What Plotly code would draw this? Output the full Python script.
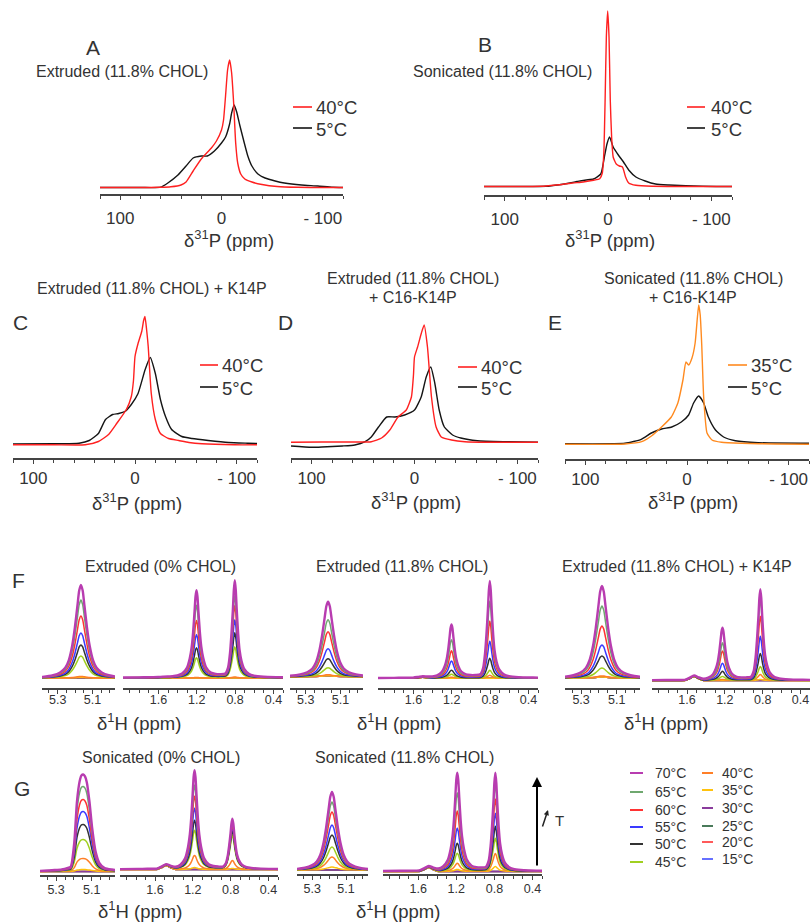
import plotly.graph_objects as go

W, H = 810, 923
def px(x): return x / W
def py(y): return 1 - y / H

FONT = "Liberation Sans, Arial, sans-serif"
TXT = "#333333"

# ---------------- 31P spectra (ppm, intensity a.u.) ----------------
A_ppm_40 = [120, 80, 60, 50, 40, 35, 28, 20, 10, 5, 0, -2, -4, -6, -8, -10, -12, -14, -16, -19, -23, -30, -40, -55, -75, -100, -120]
A_int_40 = [0.5, 0.5, 0.7, 1.2, 3, 6, 17, 29, 40, 47, 58, 68, 92, 118, 128, 115, 85, 45, 25, 14, 9, 6, 3.5, 1.5, 0.7, 0.5, 0.5]
A_ppm_5 = [120, 80, 60, 53, 43, 35, 28, 20, 14, 7, 0, -4, -8, -10, -12.5, -15, -18, -22, -26, -30, -36, -43, -53, -62, -79, -95, -110, -120]
A_int_5 = [0.5, 0.5, 0.8, 5, 13, 22, 30, 32, 32, 37, 45, 51, 64, 75, 83, 76, 63, 47, 32, 22, 14, 10, 7, 5, 3, 2, 0.7, 0.5]

B_ppm_40 = [120, 66, 47, 34, 24, 14, 8, 5.5, 4, 2.8, 1.6, 0.3, -1.0, -2.2, -3.5, -5, -6.5, -8, -11, -14, -17, -20, -27, -43, -80, -120]
B_int_40 = [0.5, 0.7, 2.3, 4, 5, 6.7, 8.3, 14, 35, 87, 150, 176, 150, 87, 50, 30, 26, 23, 21, 20, 10, 4, 1.7, 0.7, 0.5, 0.5]
B_ppm_5 = [120, 60, 47, 37, 30, 27, 21, 14, 7, 3.5, 1, -1.5, -5, -10, -15, -20, -27, -36, -46, -59, -91, -120]
B_int_5 = [0.5, 0.7, 2.3, 4, 5.5, 6, 7, 8, 13, 30, 43, 50, 40, 32, 25, 17, 10, 6, 3, 2, 0.7, 0.5]

C_ppm_40 = [120, 80, 49, 36, 26, 18, 8.5, 3.6, 1.5, 0, -3, -6.6, -8.5, -9.8, -11.5, -13, -16, -20, -25, -33, -43, -53, -66, -98, -120]
C_int_40 = [0.7, 0.7, 0.7, 4, 11, 22, 36, 49, 65, 89, 102, 114, 125, 129, 115, 99, 52, 26, 12, 7, 5, 3, 1.7, 0.7, 0.7]
C_ppm_5 = [120, 80, 55, 45, 36, 29, 22, 16, 10, 3.6, -3, -10, -15, -20, -25, -30, -36, -46, -56, -72, -92, -111, -120]
C_int_5 = [1.5, 1.7, 2.3, 5, 12, 26, 31, 32, 34, 41, 52, 76, 88, 72, 46, 29, 16, 9, 7, 5, 3, 2.3, 2]

D_ppm_40 = [120, 90, 60, 42, 32, 24, 16, 8, 3, 1, 0, -3, -6.7, -9.4, -12.6, -16.5, -21, -26, -36, -49, -71, -100, -120]
D_int_40 = [2.7, 3, 3, 3.3, 7, 15, 28, 35, 48, 70, 88, 98, 112, 120, 98, 48, 18, 8, 5, 3.3, 2.7, 2.7, 2.7]
D_ppm_5 = [120, 100, 90, 70, 58, 48, 42, 35, 27, 19, 9.6, 0, -6.5, -11.4, -15.8, -19.7, -24, -29, -37, -45, -61, -87, -120]
D_int_5 = [-1, -2.3, -2, -1, 0, 3.3, 8, 18, 28, 28, 30, 35, 48, 68, 78, 62, 35, 18, 10, 7, 4.3, 3.3, 2.7]

E_ppm_35 = [120, 61, 44.6, 35, 25, 15.4, 9, 4, 1, -1.6, -4.9, -8, -10, -11.5, -13, -14.5, -16.4, -19.7, -24.6, -34, -54, -87, -120]
E_int_35 = [0.7, 1, 3.3, 9, 18, 28, 42, 65, 83, 80, 87, 102, 125, 140, 130, 100, 48, 12, 5, 2.7, 1.7, 1, 0.7]
E_ppm_5 = [120, 61, 45, 35, 25, 15, 5.6, -1.6, -6.5, -11.5, -16.4, -21, -28, -36, -47.6, -70, -120]
E_int_5 = [1.2, 1.7, 5.7, 12, 16, 18, 23, 30, 42, 49, 42, 28, 15, 8, 4.3, 2.3, 1.7]

# ---------------- 1H spectra ----------------
temps = [70, 65, 60, 55, 50, 45, 40, 35, 30, 25, 20, 15]
temp_colors = ["#b83cb0", "#6fa86f", "#ff3333", "#3a3aff", "#333333", "#a0d020",
               "#ff7f27", "#ffc20e", "#8a3c9c", "#4a7a5a", "#ff5a5a", "#6670ff"]

# olefinic line shape (offset from peak, ppm -> normalised intensity)
OLE_OFFS = [0.3, 0.22, 0.16, 0.12, 0.09, 0.07, 0.05, 0.035, 0.02, 0.01, 0,
            -0.01, -0.02, -0.035, -0.05, -0.07, -0.09, -0.12, -0.16, -0.22, -0.3]
OLE_SHAPE_EXT = [0.004, 0.012, 0.03, 0.06, 0.11, 0.19, 0.35, 0.54, 0.78, 0.94, 1.0,
                 0.94, 0.78, 0.54, 0.35, 0.19, 0.11, 0.06, 0.03, 0.012, 0.004]
OLE_SHAPE_SON = [0.003, 0.008, 0.015, 0.022, 0.035, 0.05, 0.3, 0.72, 0.93, 0.99, 1.0,
                 0.98, 0.92, 0.72, 0.45, 0.2, 0.09, 0.035, 0.02, 0.01, 0.005]

# aliphatic region (offset from CH2 peak, ppm)
ALI_OFFS = [0.8, 0.6, 0.5, 0.4, 0.35, 0.3, 0.25, 0.2, 0.15, 0.1, 0.07, 0.05, 0.035, 0.02, 0.01, 0,
            -0.01, -0.02, -0.035, -0.05, -0.07, -0.1, -0.15, -0.2, -0.25, -0.3, -0.33, -0.35, -0.365,
            -0.38, -0.39, -0.4, -0.41, -0.42, -0.435, -0.45, -0.47, -0.5, -0.55, -0.6, -0.7, -0.85, -1.0]
CH2_SHAPE = [0.003, 0.005, 0.006, 0.008, 0.01, 0.012, 0.017, 0.025, 0.045, 0.11, 0.22, 0.35, 0.52, 0.76, 0.93, 1.0,
             0.93, 0.76, 0.52, 0.35, 0.22, 0.11, 0.045, 0.025, 0.017, 0.012, 0.011, 0.01, 0.0095,
             0.009, 0.009, 0.008, 0.008, 0.008, 0.007, 0.007, 0.0065, 0.006, 0.0055, 0.005, 0.004, 0.003, 0.002]
CH3_SHAPE = [0.0015, 0.002, 0.0025, 0.003, 0.0035, 0.004, 0.0045, 0.005, 0.0055, 0.006, 0.0065, 0.007, 0.0075, 0.008, 0.008, 0.008,
             0.0085, 0.009, 0.0095, 0.01, 0.011, 0.012, 0.015, 0.02, 0.025, 0.035, 0.1, 0.25, 0.45,
             0.7, 0.9, 1.0, 0.9, 0.7, 0.45, 0.28, 0.17, 0.085, 0.035, 0.02, 0.01, 0.006, 0.004]
BUMP_SHAPE = [0, 0, 0, 0, 0.45, 1.0, 0.45, 0, 0, 0, 0, 0, 0, 0, 0, 0,
              0, 0, 0, 0, 0, 0, 0, 0, 0, 0, 0, 0, 0,
              0, 0, 0, 0, 0, 0, 0, 0, 0, 0, 0, 0, 0, 0]

# peak heights per temperature (order of `temps`)
F1_ole = [93, 78, 62, 45, 33, 22, 1.5, 0.5, 0, 0, 0.5, 0]
F1_ch2 = [87, 72, 57, 43, 30, 20, 0.5, 0, 0, 0, 0, 0]
F1_ch3 = [97, 82, 72, 58, 45, 31, 1, 0, 0, 0, 0, 0]
F2_ole = [75, 57, 45, 28, 18, 9, 2, 1, 1, 1, 1, 1]
F2_ch2 = [53, 38, 27, 17, 8, 4, 1, 0, 0, 0, 0, 0]
F2_ch3 = [97, 77, 57, 37, 20, 8, 3, 0, 0, 0, 0, 0]
F3_ole = [92, 72, 52, 33, 22, 10, 2, 1, 1, 1, 1, 1]
F3_ch2 = [52, 37, 29, 17, 9, 4, 1, 0, 0, 0, 0, 0]
F3_ch3 = [91, 81, 64, 44, 27, 14, 6, 1, 0, 0, 0, 0]
G1_ole = [97, 85, 72, 60, 47, 32, 13, 2, 0, 0, 0, 0]
G1_ch2 = [99, 84, 73, 61, 49, 39, 14, 2, 0, 0, 0, 0]
G1_ch3 = [50, 47, 44, 42, 38, 34, 9, 1, 0, 0, 0, 0]
G2_ole = [78, 68, 58, 45, 35, 23, 13, 3, 0, 0, 0, 0]
G2_ch2 = [98, 78, 60, 43, 28, 18, 8, 2, 0, 0, 0, 0]
G2_ch3 = [98, 87, 72, 58, 45, 33, 18, 5, 0, 0, 0, 0]

fig = go.Figure()
layout = {}
count = [0]

def add_axes(xl, xr, yaxis_px, ytop_px, xrange, yrange, tickvals, ticktext, minor_vals,
             fsize, ticklen, minorlen, standoff):
    count[0] += 1
    i = count[0]
    sfx = "" if i == 1 else str(i)
    layout["xaxis" + sfx] = dict(
        domain=[px(xl), px(xr)], range=xrange, anchor="y" + sfx,
        showline=True, linecolor="#444", linewidth=1.6, mirror=False,
        ticks="outside", ticklen=ticklen, tickwidth=1, tickcolor="#444",
        tickmode="array", tickvals=tickvals, ticktext=ticktext,
        tickfont=dict(size=fsize, color=TXT, family=FONT),
        ticklabelstandoff=standoff,
        showgrid=False, zeroline=False, fixedrange=True,
        minor=dict(tickmode="array", tickvals=minor_vals, ticks="outside",
                   ticklen=minorlen, tickwidth=1, tickcolor="#444", showgrid=False))
    layout["yaxis" + sfx] = dict(domain=[py(yaxis_px), py(ytop_px)], range=yrange,
                                 anchor="x" + sfx, visible=False, fixedrange=True)
    return "x" + sfx, "y" + sfx

P_TICKS = [100, 0, -100]
P_TEXT = ["100", "0", "- 100"]
P_MINOR = [120, 80, 60, 40, 20, -20, -40, -60, -80, -120]

def p31_panel(xl, xr, axis_y, top_y, base_y, series, standoff):
    off = axis_y - base_y
    xa, ya = add_axes(xl, xr, axis_y, top_y, [120, -120], [-off, (axis_y - top_y) - off],
                      P_TICKS, P_TEXT, P_MINOR, 17, 4, 3, standoff)
    for xs, ys, col in series:
        fig.add_trace(go.Scatter(x=xs, y=ys, xaxis=xa, yaxis=ya, mode="lines",
                                 line=dict(color=col, width=1.4, shape="spline", smoothing=0.5),
                                 showlegend=False, hoverinfo="skip"))

RED, BLK, ORG = "#ff2020", "#151515", "#ff8a1f"
p31_panel(100, 343, 194, 8, 188, [(A_ppm_5, A_int_5, BLK), (A_ppm_40, A_int_40, RED)], 4)
p31_panel(484, 732, 195, 5, 187, [(B_ppm_5, B_int_5, BLK), (B_ppm_40, B_int_40, RED)], 4)
p31_panel(13, 257, 458, 298, 445.5, [(C_ppm_5, C_int_5, BLK), (C_ppm_40, C_int_40, RED)], 0)
p31_panel(291, 538, 458, 298, 445, [(D_ppm_5, D_int_5, BLK), (D_ppm_40, D_int_40, RED)], 0)
p31_panel(565, 809, 459, 299, 445, [(E_ppm_5, E_int_5, BLK), (E_ppm_35, E_int_35, ORG)], 0)

OLE_RANGE = [5.39, 4.97]
ALI_RANGE = [1.97, 0.30]
OLE_MINOR = [5.35, 5.25, 5.2, 5.15, 5.05, 5.0]
ALI_MINOR = [1.9, 1.8, 1.7, 1.5, 1.4, 1.3, 1.1, 1.0, 0.9, 0.7, 0.6, 0.5, 0.3]

def h1_group(g):
    oa_x, oa_y = add_axes(g["ole_l"], g["ole_r"], g["axis"], g["axis"] - 112, OLE_RANGE,
                          [-(g["axis"] - g["base_o"]), 112 - (g["axis"] - g["base_o"])],
                          [5.3, 5.1], ["5.3", "5.1"], OLE_MINOR, 12.5, 4, 3, g["so"])
    aa_x, aa_y = add_axes(g["ali_l"], g["ali_r"], g["axis"], g["axis"] - 112, ALI_RANGE,
                          [-(g["axis"] - g["base_a"]), 112 - (g["axis"] - g["base_a"])],
                          [1.6, 1.2, 0.8, 0.4], ["1.6", "1.2", "0.8", "0.4"], ALI_MINOR, 12.5, 4, 3, g["so"])
    for k in range(len(temps) - 1, -1, -1):
        col = temp_colors[k]
        w = 2.4 if temps[k] == 70 else 1.5
        xo = [g["ole_c"] + d for d in OLE_OFFS]
        yo = [g["ole"][k] * s for s in g["ole_shape"]]
        xa = [g["ch2_c"] + d for d in ALI_OFFS]
        ya = [g["ch2"][k] * a + g["ch3"][k] * b + g["bump"] * c
              for a, b, c in zip(CH2_SHAPE, CH3_SHAPE, BUMP_SHAPE)]
        fig.add_trace(go.Scatter(x=xo, y=yo, xaxis=oa_x, yaxis=oa_y, mode="lines",
                                 line=dict(color=col, width=w, shape="spline", smoothing=0.6),
                                 showlegend=False, hoverinfo="skip"))
        fig.add_trace(go.Scatter(x=xa, y=ya, xaxis=aa_x, yaxis=aa_y, mode="lines",
                                 line=dict(color=col, width=w, shape="spline", smoothing=0.6),
                                 showlegend=False, hoverinfo="skip"))

groups = [
    dict(ole_l=42, ole_r=115, ali_l=123, ali_r=283, axis=688, base_o=678, base_a=678, so=-5,
         ole_c=5.166, ch2_c=1.203, ole=F1_ole, ch2=F1_ch2, ch3=F1_ch3, bump=0, ole_shape=OLE_SHAPE_EXT),
    dict(ole_l=290, ole_r=363, ali_l=378, ali_r=538, axis=688, base_o=676.7, base_a=678.3, so=-5,
         ole_c=5.171, ch2_c=1.203, ole=F2_ole, ch2=F2_ch2, ch3=F2_ch3, bump=1, ole_shape=OLE_SHAPE_EXT),
    dict(ole_l=565, ole_r=640, ali_l=652, ali_r=810, axis=688, base_o=678, base_a=680.5, so=-5,
         ole_c=5.183, ch2_c=1.225, ole=F3_ole, ch2=F3_ch2, ch3=F3_ch3, bump=4, ole_shape=OLE_SHAPE_EXT),
    dict(ole_l=40, ole_r=115, ali_l=120, ali_r=278, axis=875, base_o=871.5, base_a=869.5, so=-2,
         ole_c=5.148, ch2_c=1.182, ole=G1_ole, ch2=G1_ch2, ch3=G1_ch3, bump=4, ole_shape=OLE_SHAPE_SON),
    dict(ole_l=297, ole_r=368, ali_l=383, ali_r=542, axis=874, base_o=870, base_a=871.5, so=-2,
         ole_c=5.183, ch2_c=1.19, ole=G2_ole, ch2=G2_ch2, ch3=G2_ch3, bump=4, ole_shape=OLE_SHAPE_EXT),
]
for g in groups:
    h1_group(g)

fig.update_layout(**layout)

ann = []
def text(x, y, s, size, anchor="center"):
    ann.append(dict(x=px(x), y=py(y), xref="paper", yref="paper", text=s, showarrow=False,
                    xanchor=anchor, yanchor="middle", font=dict(size=size, color=TXT, family=FONT)))

# panel letters
for s, x, y in [("A", 93, 47), ("B", 485, 45), ("C", 20, 322), ("D", 285, 323), ("E", 555, 323),
                ("F", 18, 580), ("G", 22, 788)]:
    text(x, y, s, 21)

# subtitles
text(122, 72, "Extruded (11.8% CHOL)", 16)
text(502, 72, "Sonicated (11.8% CHOL)", 16)
text(152, 288, "Extruded (11.8% CHOL) + K14P", 16)
text(413, 278, "Extruded (11.8% CHOL)", 16)
text(413, 297, "+ C16-K14P", 16)
text(693, 278, "Sonicated (11.8% CHOL)", 16)
text(693, 297, "+ C16-K14P", 16)
text(160, 566, "Extruded (0% CHOL)", 16)
text(402, 566, "Extruded (11.8% CHOL)", 16)
text(677, 566, "Extruded (11.8% CHOL) + K14P", 16)
text(161, 757, "Sonicated (0% CHOL)", 16)
text(404, 757, "Sonicated (11.8% CHOL)", 16)

# axis titles
P_TITLE = "δ<sup>31</sup>P (ppm)"
H_TITLE = "δ<sup>1</sup>H (ppm)"
for x, y in [(229, 239), (610, 239), (137, 502), (416, 501), (693, 501)]:
    text(x, y, P_TITLE, 18.5)
for x, y in [(139, 722), (399, 722), (666, 722), (140, 910), (398, 910)]:
    text(x, y, H_TITLE, 18.5)

shapes = []
def legline(x0, x1, y, col, w=1.6):
    shapes.append(dict(type="line", xref="paper", yref="paper", x0=px(x0), x1=px(x1),
                       y0=py(y), y1=py(y), line=dict(color=col, width=w)))

# 31P legends
for (lx0, lx1, tx, y1, y2, c1, t1) in [
        (293, 312, 314, 107, 128, RED, "40°C"),
        (687, 705, 709, 107, 128, RED, "40°C"),
        (200, 218, 220, 365, 387, RED, "40°C"),
        (458, 477, 479, 367, 387, RED, "40°C"),
        (728, 747, 749, 365, 387, ORG, "35°C")]:
    legline(lx0, lx1, y1, c1)
    legline(lx0, lx1, y2, BLK)
    text(tx, y1 + 1, t1, 18.5, "left")
    text(tx, y2 + 1, "5°C", 18.5, "left")

# 1H temperature legend
col1_y = [773, 792, 810, 827, 844, 862]
col2_y = [773, 790, 808, 826, 842, 859]
for k in range(6):
    legline(630, 643, col1_y[k], temp_colors[k], 2)
    text(653, col1_y[k], f"{temps[k]}°C", 14, "left")
    legline(702, 713, col2_y[k], temp_colors[k + 6], 2)
    text(720, col2_y[k], f"{temps[k + 6]}°C", 14, "left")

# temperature arrows
ann.append(dict(x=px(537), y=py(777), xref="paper", yref="paper", ax=0, ay=90,
                showarrow=True, arrowhead=2, arrowsize=1, arrowwidth=2, arrowcolor="black", text=""))
ann.append(dict(x=px(548), y=py(810), xref="paper", yref="paper", ax=-6, ay=18,
                showarrow=True, arrowhead=2, arrowsize=0.7, arrowwidth=1.5, arrowcolor="#222", text=""))
text(559, 820, "T", 15)

fig.update_layout(width=W, height=H, margin=dict(l=0, r=0, t=0, b=0),
                  paper_bgcolor="white", plot_bgcolor="white",
                  annotations=ann, shapes=shapes, showlegend=False,
                  font=dict(family=FONT, color=TXT))

fig.write_html("out.html", config={"displayModeBar": False, "staticPlot": True},
               post_script="document.body.style.margin='0px';")
